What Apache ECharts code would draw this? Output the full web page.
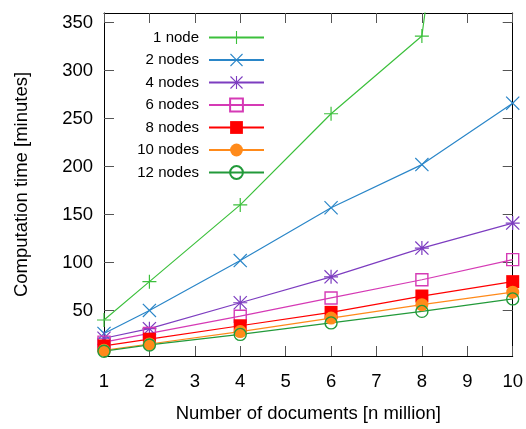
<!DOCTYPE html>
<html><head><meta charset="utf-8">
<script src="https://cdn.jsdelivr.net/npm/echarts@6/dist/echarts.min.js"></script>
<style>html,body{margin:0;padding:0;background:#fff}#c{width:526px;height:429px}</style>
</head><body><div id="c"></div>
<script>
const xValues = [1, 2, 4, 6, 8, 10];
const seriesNames = ['1 node', '2 nodes', '4 nodes', '6 nodes', '8 nodes', '10 nodes', '12 nodes'];
const node1 = [40, 80, 160, 255, 336, 1050];
const node2 = [26, 50, 102, 157, 202, 266];
const node4 = [21, 31, 58, 85, 115, 141];
const node6 = [17, 26, 44, 63, 82, 103];
const node8 = [13, 20, 34, 48, 65, 80];
const node10 = [8.5, 15, 28, 42, 56, 69];
const node12 = [7.5, 14, 25, 37, 49, 62];
const yTicks = [50, 100, 150, 200, 250, 300, 350];
const xTicks = [1, 2, 3, 4, 5, 6, 7, 8, 9, 10];

const allValues = [node1, node2, node4, node6, node8, node10, node12];
const colors = ['#3cc03c', '#2a86c8', '#7d3dc0', '#d53ab5', '#ff0000', '#ff8a1a', '#229a3a'];

const PLUS = 'path://M6.4,0h1.2v6.4h6.4v1.2h-6.4v6.4h-1.2v-6.4h-6.4v-1.2h6.4z';
const CROSS = 'path://M0,0.85L0.85,0L7,6.15L13.15,0L14,0.85L7.85,7L14,13.15L13.15,14L7,7.85L0.85,14L0,13.15L6.15,7z';
const STAR = 'path://M6.4,0h1.2v6.4h6.4v1.2h-6.4v6.4h-1.2v-6.4h-6.4v-1.2h6.4z M0,0.85L0.85,0L7,6.15L13.15,0L14,0.85L7.85,7L14,13.15L13.15,14L7,7.85L0.85,14L0,13.15L6.15,7z';

const symbolDefs = [
  {symbol: PLUS, size: 14, itemStyle: {}},
  {symbol: CROSS, size: 14, itemStyle: {}},
  {symbol: STAR, size: 14, itemStyle: {}},
  {symbol: 'rect', size: 12, itemStyle: {color: 'rgba(0,0,0,0)', borderWidth: 1.4}},
  {symbol: 'rect', size: 13, itemStyle: {}},
  {symbol: 'circle', size: 13, itemStyle: {}},
  {symbol: 'circle', size: 12, itemStyle: {color: 'rgba(0,0,0,0)', borderWidth: 1.4}}
];

const series = seriesNames.map((name, i) => {
  const d = symbolDefs[i];
  const itemStyle = Object.assign({color: colors[i]}, d.itemStyle);
  if (d.itemStyle.borderWidth) itemStyle.borderColor = colors[i];
  return {
    name: name,
    type: 'line',
    data: xValues.map((x, j) => [x, allValues[i][j]]),
    symbol: d.symbol,
    symbolSize: d.size,
    showAllSymbol: true,
    clip: true,
    color: colors[i],
    lineStyle: {color: colors[i], width: 1.2},
    itemStyle: itemStyle,
    emphasis: {disabled: true},
    animation: false
  };
});

const font = 'Liberation Sans, Arial, sans-serif';
const tickStyle = {show: true, inside: true, length: 10, lineStyle: {color: '#555', width: 1}};
const axisLine = {show: true, lineStyle: {color: '#000', width: 1}};

const chart = echarts.init(document.getElementById('c'));
chart.setOption({
  backgroundColor: '#fff',
  animation: false,
  grid: {left: 104, right: 12, top: 13, bottom: 73, containLabel: false},
  legend: {
    orient: 'vertical',
    align: 'right',
    right: 256,
    top: 25,
    itemWidth: 55,
    itemHeight: 16,
    itemGap: 7.5,
    data: seriesNames,
    selectedMode: false,
    textStyle: {fontFamily: font, fontSize: 15, color: '#000', padding: [0, 5, 0, 0]}
  },
  xAxis: [
    {
      type: 'value', min: 1, max: 10, interval: 1, position: 'bottom',
      name: 'Number of documents [n million]', nameLocation: 'middle', nameGap: 48,
      nameTextStyle: {fontFamily: font, fontSize: 18.5, color: '#000'},
      axisLine: axisLine, axisTick: tickStyle, splitLine: {show: false},
      axisLabel: {fontFamily: font, fontSize: 18.5, color: '#000', margin: 16}
    },
    {
      type: 'value', min: 1, max: 10, interval: 1, position: 'top',
      axisLine: axisLine, axisTick: tickStyle, splitLine: {show: false},
      axisLabel: {show: false}
    }
  ],
  yAxis: [
    {
      type: 'value', min: 2.5, max: 360, position: 'left',
      name: 'Computation time [minutes]', nameLocation: 'middle', nameGap: 73,
      nameTextStyle: {fontFamily: font, fontSize: 18.5, color: '#000'},
      axisLine: axisLine,
      axisTick: Object.assign({customValues: yTicks}, tickStyle),
      splitLine: {show: false},
      axisLabel: {fontFamily: font, fontSize: 18.5, color: '#000', margin: 11, customValues: yTicks}
    },
    {
      type: 'value', min: 2.5, max: 360, position: 'right',
      axisLine: axisLine,
      axisTick: Object.assign({customValues: yTicks}, tickStyle),
      splitLine: {show: false},
      axisLabel: {show: false, customValues: yTicks}
    }
  ],
  series: series
});
</script>
</body></html>
